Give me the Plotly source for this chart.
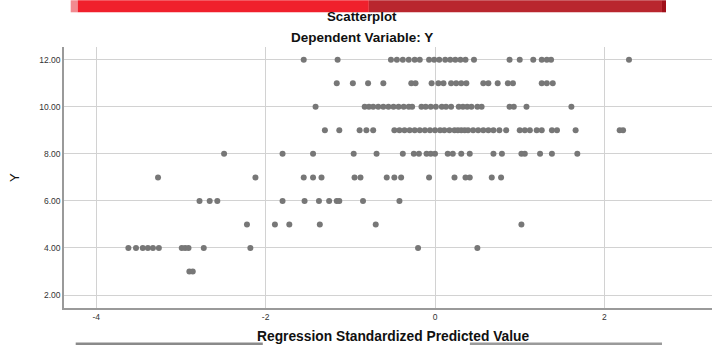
import plotly.graph_objects as go

# Regression standardized predicted value, grouped by observed Y
pred_y12 = [-1.55, -1.15, -0.52, -0.45, -0.38, -0.31, -0.24, -0.18, -0.07, -0.01, 0.05, 0.12,
            0.18, 0.24, 0.30, 0.36, 0.46, 0.88, 1.00, 1.16, 1.26, 1.32, 1.37, 2.29]
pred_y11 = [-1.16, -0.97, -0.79, -0.61, -0.28, -0.23, -0.04, 0.04, 0.10, 0.19, 0.25, 0.31,
            0.37, 0.57, 0.63, 0.74, 0.86, 0.92, 1.26, 1.32, 1.39]
pred_y10 = [-1.41, -0.83, -0.78, -0.73, -0.67, -0.61, -0.55, -0.49, -0.43, -0.37, -0.31, -0.27,
            -0.16, -0.11, -0.05, 0.01, 0.08, 0.13, 0.19, 0.28, 0.33, 0.38, 0.43, 0.50, 0.55,
            0.88, 0.93, 1.08, 1.61]
pred_y9 = [-1.30, -1.13, -0.89, -0.81, -0.73, -0.48, -0.42, -0.36, -0.30, -0.24, -0.18, -0.12,
           -0.06, 0.00, 0.06, 0.11, 0.17, 0.23, 0.27, 0.31, 0.35, 0.39, 0.45, 0.51, 0.57, 0.63,
           0.69, 0.76, 0.84, 1.00, 1.06, 1.12, 1.20, 1.26, 1.38, 1.44, 1.66, 2.18, 2.22]
pred_y8 = [-2.49, -1.80, -1.44, -0.96, -0.69, -0.38, -0.25, -0.19, -0.10, -0.05, 0.00, 0.15,
           0.21, 0.31, 0.41, 0.69, 0.79, 1.02, 1.06, 1.24, 1.38, 1.68]
pred_y7 = [-3.27, -2.12, -1.55, -1.44, -1.34, -0.95, -0.88, -0.57, -0.48, -0.40, -0.07, 0.23,
           0.36, 0.41, 0.67, 0.78]
pred_y6 = [-2.78, -2.66, -2.57, -1.80, -1.54, -1.37, -1.25, -1.16, -1.13, -0.85, -0.42]
pred_y5 = [-2.22, -1.89, -1.72, -1.36, -0.70, 1.02]
pred_y4 = [-3.62, -3.53, -3.45, -3.39, -3.33, -3.26, -2.99, -2.95, -2.91, -2.73, -2.18, -0.20, 0.50]
pred_y3 = [-2.90, -2.86]

y_levels = [12, 11, 10, 9, 8, 7, 6, 5, 4, 3]
pred_groups = [pred_y12, pred_y11, pred_y10, pred_y9, pred_y8, pred_y7, pred_y6, pred_y5,
               pred_y4, pred_y3]

x_ticks = [-4, -2, 0, 2]
y_ticks = [2, 4, 6, 8, 10, 12]

xs, ys = [], []
for lvl, grp in zip(y_levels, pred_groups):
    xs.extend(grp)
    ys.extend([lvl] * len(grp))

FONT = "Liberation Sans, Arial, sans-serif"

fig = go.Figure()
fig.add_trace(go.Scatter(
    x=xs, y=ys, mode="markers",
    marker=dict(size=6, color="#777777", line=dict(width=0)),
    showlegend=False, hoverinfo="x+y",
))

# plot area in pixels: x 64.3..712, y 46.7..307.7
L, R, T, B = 64.3, 712.0, 46.7, 307.7
W, H = R - L, B - T


def px(p):
    return (p - L) / W


def py(p):
    return (B - p) / H


fig.update_layout(
    width=712, height=345,
    margin=dict(l=64, r=0, t=47, b=37, pad=0),
    paper_bgcolor="white", plot_bgcolor="white",
    font=dict(family=FONT, color="#222222"),
    xaxis=dict(
        range=[-4.38, 3.27], tickvals=x_ticks, ticktext=[str(v) for v in x_ticks],
        showgrid=True, gridcolor="#d2d2d2", gridwidth=1, zeroline=False,
        showline=True, linecolor="#9a9a9a", linewidth=1.5,
        ticks="", tickfont=dict(size=8.5, color="#333333", family=FONT),
    ),
    yaxis=dict(
        range=[1.45, 12.54], tickvals=y_ticks, tickformat=".2f",
        showgrid=True, gridcolor="#d2d2d2", gridwidth=1, zeroline=False,
        showline=True, linecolor="#9a9a9a", linewidth=1.5,
        ticks="", tickfont=dict(size=8.5, color="#333333", family=FONT),
    ),
    annotations=[
        dict(text="<b>Scatterplot</b>", xref="paper", yref="paper", x=px(362), y=py(16),
             showarrow=False, font=dict(size=13.3, color="#111111", family=FONT),
             xanchor="center", yanchor="middle"),
        dict(text="<b>Dependent Variable: Y</b>", xref="paper", yref="paper", x=px(362), y=py(37),
             showarrow=False, font=dict(size=13.5, color="#111111", family=FONT),
             xanchor="center", yanchor="middle"),
        dict(text="Y", xref="paper", yref="paper", x=px(15), y=py(177), textangle=-90,
             showarrow=False, font=dict(size=13, color="#111111", family=FONT),
             xanchor="center", yanchor="middle"),
        dict(text="<b>Regression Standardized Predicted Value</b>", xref="paper", yref="paper",
             x=px(393.5), y=py(336), showarrow=False,
             font=dict(size=13.8, color="#111111", family=FONT),
             xanchor="center", yanchor="middle"),
    ],
    shapes=[
        dict(type="rect", xref="paper", yref="paper", x0=px(71), x1=px(78), y0=py(12), y1=py(0),
             fillcolor="#f28a90", line=dict(width=0), layer="above"),
        dict(type="rect", xref="paper", yref="paper", x0=px(78), x1=px(369), y0=py(12), y1=py(0),
             fillcolor="#f0202c", line=dict(width=0), layer="above"),
        dict(type="rect", xref="paper", yref="paper", x0=px(369), x1=px(662), y0=py(12), y1=py(0),
             fillcolor="#b9262e", line=dict(width=0), layer="above"),
        dict(type="rect", xref="paper", yref="paper", x0=px(662), x1=px(666), y0=py(12), y1=py(0),
             fillcolor="#a0101a", line=dict(width=0), layer="above"),
        dict(type="line", xref="paper", yref="paper", x0=px(76), x1=px(263), y0=py(343.5),
             y1=py(343.5), line=dict(color="#8a8a8a", width=2.5)),
        dict(type="line", xref="paper", yref="paper", x0=px(470), x1=px(662), y0=py(343.5),
             y1=py(343.5), line=dict(color="#9a9a9a", width=2.5)),
    ],
)

fig.write_html(
    "out.html",
    config={"displayModeBar": False},
    post_script="document.body.style.margin='0';document.body.style.overflow='hidden';",
)
